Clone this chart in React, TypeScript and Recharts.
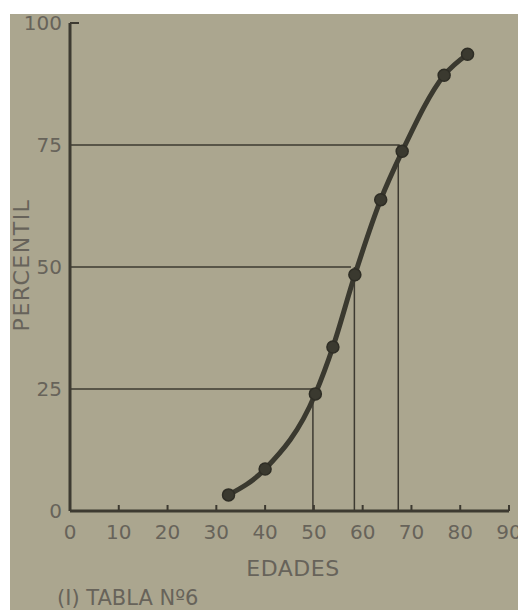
import { LineChart, Line, XAxis, YAxis, ReferenceLine } from 'recharts'

// Edades vs percentil (ojiva, Tabla Nº6)
const edades = [32.5, 40, 50.3, 53.9, 58.4, 63.7, 68.1, 76.7, 81.5]
const percentil = [3.3, 8.6, 24, 33.6, 48.4, 63.8, 73.7, 89.3, 93.6]

const xTicks = [0, 10, 20, 30, 40, 50, 60, 70, 80, 90]
const yTicks = [0, 25, 50, 75, 100]

// cuartiles: percentil y edad donde corta la curva
const cuartiles = [25, 50, 75]
const edadCuartil = [49.8, 58.3, 67.3]
const edadCorte = [50.2, 57.6, 67.6]

const BG = '#aba68f'
const INK = '#3d3a31'
const TXT = '#67635a'
const FONT = '"DejaVu Sans", sans-serif'

const data = edades.map((e, i) => ({ edad: e, p: percentil[i] }))

function XTick(props: any) {
  const { x, y, payload } = props
  return (
    <g>
      {payload.value > 0 && (
        <line x1={x} x2={x} y1={y} y2={y - 6} stroke={INK} strokeWidth={2} />
      )}
      <text x={x} y={y + 28} textAnchor="middle" fill={TXT} fontSize={20} fontFamily={FONT}>
        {payload.value}
      </text>
    </g>
  )
}

function YTick(props: any) {
  const { x, y, payload } = props
  return (
    <g>
      {payload.value === 100 && (
        <line x1={x} x2={x + 9} y1={y} y2={y} stroke={INK} strokeWidth={2} />
      )}
      <text x={x - 8} y={y} dy="0.36em" textAnchor="end" fill={TXT} fontSize={20} fontFamily={FONT}>
        {payload.value}
      </text>
    </g>
  )
}

export default function App() {
  return (
    <div style={{ position: 'relative', marginLeft: 2, marginTop: 6, width: 516, height: 596, background: BG, fontFamily: FONT }}>
      <LineChart width={516} height={596} data={data} margin={{ top: 9, right: 17, left: 0, bottom: 0 }}>
        <XAxis
          dataKey="edad"
          type="number"
          domain={[0, 90]}
          ticks={xTicks}
          height={99}
          tickSize={0}
          tickMargin={0}
          tickLine={false}
          tick={<XTick />}
          axisLine={{ stroke: INK, strokeWidth: 3 }}
        />
        <YAxis
          type="number"
          domain={[0, 100]}
          ticks={yTicks}
          width={60}
          tickSize={0}
          tickMargin={0}
          tickLine={false}
          tick={<YTick />}
          axisLine={{ stroke: INK, strokeWidth: 3 }}
        />
        {cuartiles.map((q, i) => (
          <ReferenceLine
            key={'h' + q}
            segment={[{ x: 0, y: q }, { x: edadCorte[i], y: q }]}
            stroke={INK}
            strokeWidth={1.5}
          />
        ))}
        {cuartiles.map((q, i) => (
          <ReferenceLine
            key={'v' + q}
            segment={[{ x: edadCuartil[i], y: 0 }, { x: edadCuartil[i], y: q }]}
            stroke={INK}
            strokeWidth={1.5}
          />
        ))}
        <Line
          dataKey="p"
          type="monotone"
          stroke="#3a392f"
          strokeWidth={5}
          dot={{ r: 6, fill: '#3a392f', stroke: '#2e2d25', strokeWidth: 1.5 }}
          isAnimationActive={false}
        />
      </LineChart>
      <div
        style={{
          position: 'absolute', left: 12, top: 251, color: TXT, fontSize: 22, letterSpacing: 1.5,
          transform: 'translate(-50%, -50%) rotate(-90deg)', whiteSpace: 'nowrap', lineHeight: 1,
        }}
      >
        PERCENTIL
      </div>
      <div
        style={{
          position: 'absolute', left: 283, top: 542, color: TXT, fontSize: 22, letterSpacing: 0.5,
          transform: 'translateX(-50%)', whiteSpace: 'nowrap',
        }}
      >
        EDADES
      </div>
      <div style={{ position: 'absolute', left: 47, top: 572, color: TXT, fontSize: 21, whiteSpace: 'nowrap' }}>
        (I) TABLA Nº6
      </div>
    </div>
  )
}
